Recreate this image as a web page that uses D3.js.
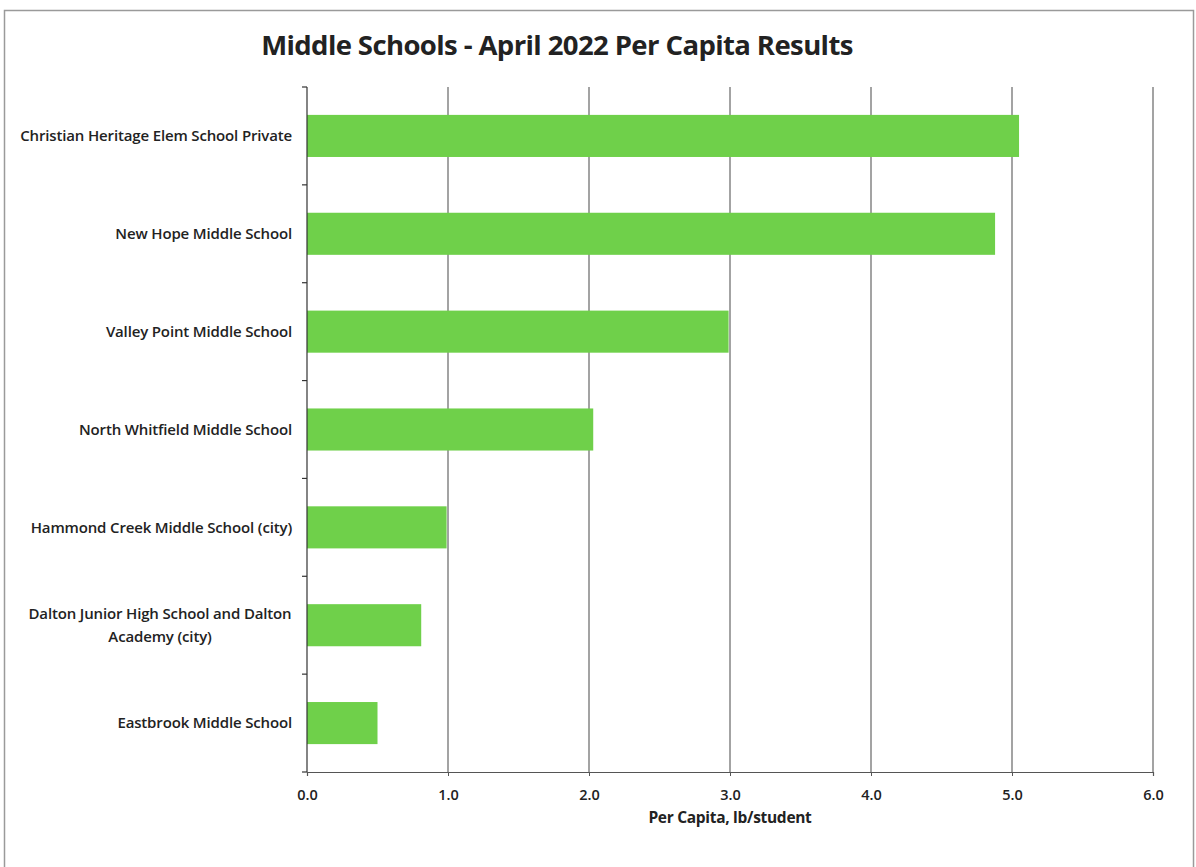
<!DOCTYPE html>
<html><head><meta charset="utf-8">
<script src="https://cdn.jsdelivr.net/npm/d3@7"></script>
<style>body{margin:0;background:#fff;}svg{display:block;}</style>
</head><body>
<svg id="c" width="1196" height="867"></svg>
<script>
const categories = [
  "Christian Heritage Elem School Private",
  "New Hope Middle School",
  "Valley Point Middle School",
  "North Whitfield Middle School",
  "Hammond Creek Middle School (city)",
  "Dalton Junior High School and Dalton Academy (city)",
  "Eastbrook Middle School"
];
const values = [5.05, 4.88, 2.99, 2.03, 0.99, 0.81, 0.50];
const xTicks = [0, 1, 2, 3, 4, 5, 6];
const title = "Middle Schools - April 2022 Per Capita Results";
const xTitle = "Per Capita, lb/student";

const svg = d3.select("#c");
const M = {left: 307, right: 1153, top: 87, bottom: 772};
const font = "'Open Sans', 'Liberation Sans', sans-serif";

// outer border
svg.append("rect").attr("x", 4.5).attr("y", 10.5).attr("width", 1189).attr("height", 870)
  .attr("fill", "none").attr("stroke", "#9a9a9a").attr("stroke-width", 1.5);

const x = d3.scaleLinear().domain([0, 6]).range([M.left, M.right]);
const y = d3.scaleBand().domain(categories).range([M.top, M.bottom]).paddingInner(0.57).paddingOuter(0.285);
const yb = d3.scaleBand().domain(categories).range([M.top, M.bottom]);

// gridlines
svg.append("g").selectAll("line").data(xTicks.slice(1)).join("line")
  .attr("x1", d => x(d)).attr("x2", d => x(d)).attr("y1", M.top).attr("y2", M.bottom)
  .attr("stroke", "#666").attr("stroke-width", 1.2);

// bars
svg.append("g").selectAll("rect").data(values).join("rect")
  .attr("x", x(0)).attr("y", (d, i) => y(categories[i]))
  .attr("width", d => x(d) - x(0)).attr("height", y.bandwidth())
  .attr("fill", "#6fd04a");

// x axis
const xAxis = d3.axisBottom(x).tickValues(xTicks).tickFormat(d3.format(".1f")).tickSize(4).tickPadding(14);
const gx = svg.append("g").attr("transform", `translate(0,${M.bottom})`).call(xAxis);
gx.select(".domain").attr("stroke", "#555").attr("stroke-width", 1.2);
gx.selectAll(".tick line").attr("stroke", "#555");
gx.selectAll("text").attr("font-family", font).attr("font-size", 14.5).attr("font-weight", 600).attr("fill", "#222");

// y axis line + ticks at band boundaries
svg.append("line").attr("x1", M.left).attr("x2", M.left).attr("y1", M.top).attr("y2", M.bottom)
  .attr("stroke", "#333").attr("stroke-width", 1.2);
const bounds = categories.map(c => yb(c)).concat([M.bottom]);
svg.append("g").selectAll("line").data(bounds).join("line")
  .attr("x1", M.left - 5).attr("x2", M.left).attr("y1", d => d).attr("y2", d => d)
  .attr("stroke", "#333").attr("stroke-width", 1.2);

// y labels (wrapped)
const labG = svg.append("g");
categories.forEach(c => {
  const cy = yb(c) + yb.bandwidth() / 2;
  const t = labG.append("text").attr("x", 292).attr("y", cy).attr("text-anchor", "end")
    .attr("font-family", font).attr("font-size", 15).attr("font-weight", 600).attr("fill", "#222")
    .attr("letter-spacing", -0.15);
  if (c.length > 40) {
    const lines = ["Dalton Junior High School and Dalton", "Academy (city)"];
    t.attr("text-anchor", "middle");
    lines.forEach((l, k) => t.append("tspan").attr("x", 160).attr("y", cy - 11 + k * 23).attr("dy", "0.35em").text(l));
  } else {
    t.attr("dy", "0.35em").text(c);
  }
});

// title
svg.append("text").attr("x", 557).attr("y", 55).attr("text-anchor", "middle")
  .attr("font-family", font).attr("font-weight", "bold").attr("font-size", 27.5).attr("fill", "#222")
  .attr("letter-spacing", -0.6).text(title);

// x title
svg.append("text").attr("x", 730).attr("y", 823).attr("text-anchor", "middle")
  .attr("font-family", font).attr("font-weight", "bold").attr("font-size", 15.5).attr("fill", "#222")
  .attr("letter-spacing", -0.3).text(xTitle);
</script>
</body></html>
